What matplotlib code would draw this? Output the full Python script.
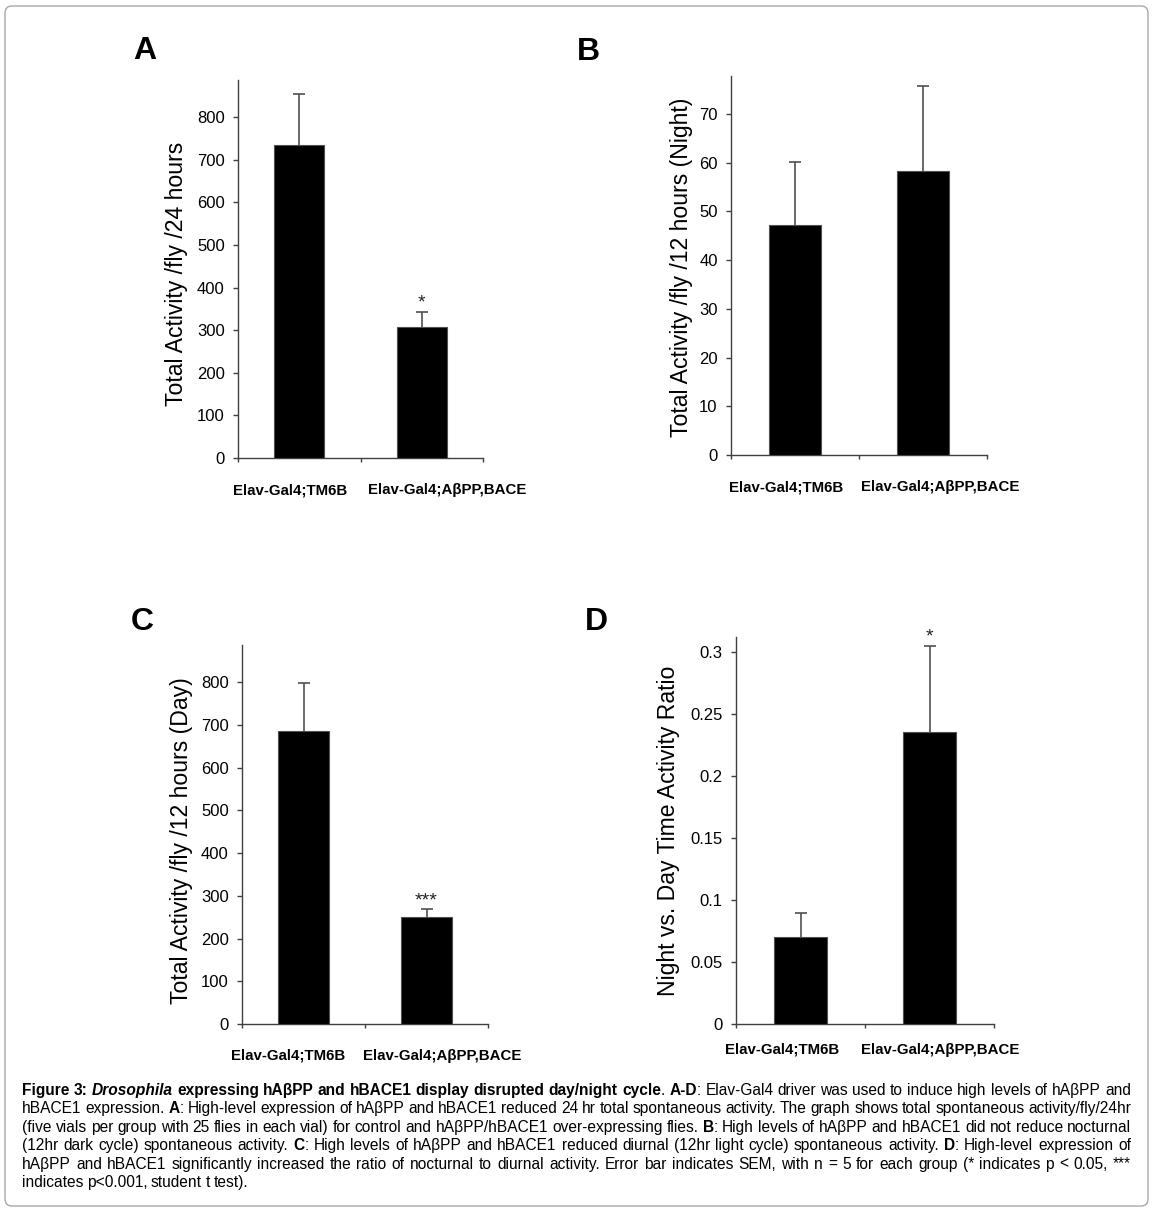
"""Figure 3: day/night activity of Elav-Gal4 flies, four bar panels + caption."""
import numpy as np
import matplotlib
matplotlib.use('Agg')
import matplotlib.pyplot as plt
from matplotlib.patches import FancyBboxPatch

plt.rcParams['font.family'] = ['Liberation Sans', 'DejaVu Sans']

# data
groups = ['Elav-Gal4;TM6B', 'Elav-Gal4;AβPP,BACE']

act24_mean = [735, 307]
act24_sem = [119, 36]
night_mean = [47.2, 58.2]
night_sem = [13.0, 17.6]
day_mean = [685, 250]
day_sem = [113, 19]
ratio_mean = [0.070, 0.2355]
ratio_sem = [0.0195, 0.0695]

act24_stars = ['', '*']
night_stars = ['', '']
day_stars = ['', '***']
ratio_stars = ['', '*']

ylabels = ['Total Activity /fly /24 hours',
           'Total Activity /fly /12 hours (Night)',
           'Total Activity /fly /12 hours (Day)',
           'Night vs. Day Time Activity Ratio']
panel_letters = ['A', 'B', 'C', 'D']

W, H = 1153, 1212
fig = plt.figure(figsize=(W / 100, H / 100), dpi=100)


def px_rect(l, t, r, b):
    return [l / W, 1 - b / H, (r - l) / W, (b - t) / H]


# panel layout in pixels: axes box, y range, ticks, label spots
panels = [
    dict(rect=(238, 80, 483, 458), ymax=887, ticks=np.arange(0, 801, 100),
         means=act24_mean, sems=act24_sem, stars=act24_stars,
         lab=(-0.253, 0.487), letter=(145, 59), cats=((290, 490), (447, 490))),
    dict(rect=(731, 76, 987, 455), ymax=77.8, ticks=np.arange(0, 71, 10),
         means=night_mean, sems=night_sem, stars=night_stars,
         lab=(-0.195, 0.496), letter=(588, 60), cats=((786, 487), (940, 487))),
    dict(rect=(242, 645, 488, 1024), ymax=887, ticks=np.arange(0, 801, 100),
         means=day_mean, sems=day_sem, stars=day_stars,
         lab=(-0.244, 0.485), letter=(142, 630), cats=((288, 1056), (442, 1056))),
    dict(rect=(736, 637, 994, 1024), ymax=0.312, ticks=np.arange(0, 0.31, 0.05),
         means=ratio_mean, sems=ratio_sem, stars=ratio_stars,
         lab=(-0.26, 0.499), letter=(596, 630), cats=((782, 1050), (940, 1050))),
]

x = np.arange(len(groups))
for p, ylab, letter in zip(panels, ylabels, panel_letters):
    ax = fig.add_axes(px_rect(*p['rect']))
    ax.bar(x, p['means'], width=0.41, color='black', edgecolor='#505050',
           linewidth=0.8, zorder=3)
    eb = ax.errorbar(x, p['means'], yerr=[np.zeros(len(x)), p['sems']], fmt='none',
                     ecolor='#505050', elinewidth=1.2, capsize=4, capthick=1.2, zorder=2)
    eb[1][0].set_visible(False)  # no cap at the bar top
    for xi, m, s, st in zip(x, p['means'], p['sems'], p['stars']):
        if st:
            ax.annotate(st, xy=(xi, m + s), xytext=(0, 4), textcoords='offset pixels',
                        ha='center', va='baseline', fontsize=14, color='#222222')
    ax.set_xlim(-0.5, 1.5)
    ax.set_ylim(0, p['ymax'])
    ax.set_yticks(p['ticks'])
    if p['ymax'] < 1:
        ax.set_yticklabels(['0', '0.05', '0.1', '0.15', '0.2', '0.25', '0.3'])
    else:
        ax.set_yticklabels([f'{t:g}' for t in p['ticks']])
    ax.set_xticks([-0.5, 0.5, 1.5])
    ax.set_xticklabels([])
    for side in ['top', 'right']:
        ax.spines[side].set_visible(False)
    for side in ['left', 'bottom']:
        ax.spines[side].set_color('#404040')
        ax.spines[side].set_linewidth(1.0)
    ax.tick_params(axis='y', direction='out', length=3.6, width=1.0,
                   color='#404040', labelsize=12, pad=6)
    ax.tick_params(axis='x', direction='out', length=3, width=1.0, color='#404040')
    ax.set_ylabel(ylab, fontsize=16.6, va='center')
    ax.yaxis.set_label_coords(*p['lab'])
    for (cx, cy), g in zip(p['cats'], groups):
        fig.text(cx / W, 1 - cy / H, g, ha='center', va='center',
                 fontsize=10.8, fontweight='bold')
    fig.text(p['letter'][0] / W, 1 - p['letter'][1] / H, letter, ha='center',
             va='baseline', fontsize=23, fontweight='bold')

# frame round the whole figure
frame = FancyBboxPatch((5 / W, 6 / H), 1143 / W, 1200 / H,
                       boxstyle='round,pad=0,rounding_size=0.006',
                       transform=fig.transFigure, fill=False,
                       edgecolor='#a8a8a8', linewidth=1.0)
fig.patches.append(frame)

# caption, justified line by line
B, BI, R = ('bold', 'normal'), ('bold', 'italic'), ('normal', 'normal')
caption_lines = [
    [('Figure 3: ', B), ('Drosophila', BI),
     (' expressing hAβPP and hBACE1 display disrupted day/night cycle', B),
     ('. ', R), ('A-D', B),
     (': Elav-Gal4 driver was used to induce high levels of hAβPP and', R)],
    [('hBACE1 expression. ', R), ('A', B),
     (': High-level expression of hAβPP and hBACE1 reduced 24 hr total spontaneous '
      'activity. The graph shows total spontaneous activity/fly/24hr', R)],
    [('(five vials per group with 25 flies in each vial) for control and hAβPP/hBACE1 '
      'over-expressing flies. ', R), ('B', B),
     (': High levels of hAβPP and hBACE1 did not reduce nocturnal', R)],
    [('(12hr dark cycle) spontaneous activity. ', R), ('C', B),
     (': High levels of hAβPP and hBACE1 reduced diurnal (12hr light cycle) '
      'spontaneous activity. ', R), ('D', B), (': High-level expression of', R)],
    [('hAβPP and hBACE1 significantly increased the ratio of nocturnal to diurnal '
      'activity. Error bar indicates SEM, with n = 5 for each group (* indicates '
      'p < 0.05, ***', R)],
    [('indicates p<0.001, student t test).', R)],
]
cap_family = ['Liberation Sans Narrow', 'Liberation Sans', 'DejaVu Sans']
cap_size = 11.2
x0, x1 = 22, 1131
renderer = fig.canvas.get_renderer()

for i, segs in enumerate(caption_lines):
    words = []
    new_word = True
    for text, (wt, st) in segs:
        for j, part in enumerate(text.split(' ')):
            if j > 0:
                new_word = True
            if not part:
                continue
            if new_word:
                words.append([])
                new_word = False
            words[-1].append((part, wt, st))
    base = 1 - (1095 + 18.4 * i) / H
    objs = []
    total = 0.0
    for w in words:
        row = []
        for part, wt, st in w:
            t = fig.text(0, base, part, fontsize=cap_size, fontweight=wt, fontstyle=st,
                         family=cap_family, ha='left', va='baseline')
            wpx = t.get_window_extent(renderer).width
            row.append((t, wpx))
            total += wpx
        objs.append(row)
    last = i == len(caption_lines) - 1
    if last:
        gap = 3.5
    else:
        gap = (x1 - x0 - total) / (len(objs) - 1)
    xp = x0
    for row in objs:
        for t, wpx in row:
            t.set_x(xp / W)
            xp += wpx
        xp += gap

fig.savefig('out.png', dpi=100)
